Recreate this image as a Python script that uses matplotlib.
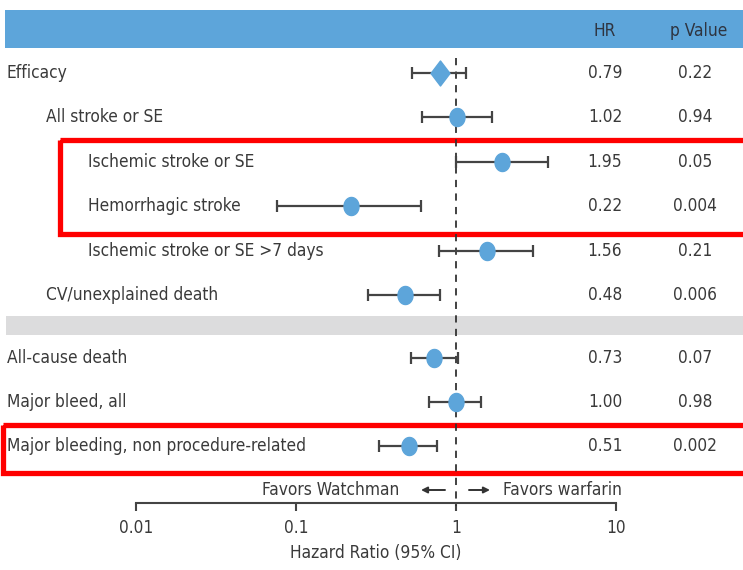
import numpy as np
import matplotlib
matplotlib.use('Agg')
import matplotlib.pyplot as plt
from matplotlib.path import Path
from matplotlib.patches import Rectangle

# DejaVu Sans Condensed is the narrowest face at hand
plt.rcParams['font.family'] = ['DejaVu Sans']
plt.rcParams['font.stretch'] = 'condensed'

# data
labels = ["Efficacy", "All stroke or SE", "Ischemic stroke or SE", "Hemorrhagic stroke",
          "Ischemic stroke or SE >7 days", "CV/unexplained death",
          "All-cause death", "Major bleed, all", "Major bleeding, non procedure-related"]
indent = [0, 1, 2, 2, 2, 1, 0, 0, 0]
hr = np.array([0.79, 1.02, 1.95, 0.22, 1.56, 0.48, 0.73, 1.00, 0.51])
ci_lo = np.array([0.53, 0.61, 1.00, 0.076, 0.78, 0.28, 0.52, 0.68, 0.33])
ci_hi = np.array([1.15, 1.69, 3.75, 0.60, 3.05, 0.79, 1.03, 1.43, 0.76])
hr_txt = ["0.79", "1.02", "1.95", "0.22", "1.56", "0.48", "0.73", "1.00", "0.51"]
p_txt = ["0.22", "0.94", "0.05", "0.004", "0.21", "0.006", "0.07", "0.98", "0.002"]
ticks = [0.01, 0.1, 1, 10]
tick_labels = ["0.01", "0.1", "1", "10"]

BLUE = '#5DA5DA'
TXT = '#3a3a3a'
FS = 12.4

# layout (pixel-like y, log x: 160 px per decade, HR=1 at x=456)
W, H = 743, 570
DEC = 160
row_y = [73 + 44.4 * i if i < 6 else 358 + 44.2 * (i - 6) for i in range(len(labels))]
indent_px = [7, 46, 88]


def shift(dx):
    # HR value dx pixels away from the line at 1
    return 10 ** (dx / DEC)


fig = plt.figure(figsize=(W / 100, H / 100), dpi=100)
ax = fig.add_axes([0, 0, 1, 1])
ax.set_xscale('log')
ax.set_xlim(shift(-456), shift(W - 456))
ax.set_ylim(H, 0)
ax.minorticks_off()

bt = ax.get_yaxis_transform()  # x in axes fraction, y in data

# header bar and separator band
ax.axhspan(10, 48, xmin=5 / W, xmax=1, color=BLUE, lw=0, zorder=0)
ax.axhspan(316, 335, xmin=6 / W, xmax=1, color='#dcdcdd', lw=0, zorder=0)
ax.text(605 / W, 31, "HR", transform=bt, ha='center', va='center', fontsize=FS, color='#2e3440')
ax.text(699 / W, 31, "p Value", transform=bt, ha='center', va='center', fontsize=FS, color='#2e3440')

# red highlight boxes
for (y0, y1, x0) in [(139.5, 233.5, 60), (424.5, 472.5, 2.5)]:
    ax.add_patch(Rectangle((x0 / W, y0), 1.05 - x0 / W, y1 - y0, transform=bt,
                           fill=False, edgecolor='#ff0000', lw=3.8, zorder=1))

# reference line
ax.vlines(1, 58, 506, colors='#333333', linestyles=(0, (4, 3.5)), lw=1.3, zorder=2)

# rows
for i, lab in enumerate(labels):
    ax.text(indent_px[indent[i]] / W, row_y[i], lab, transform=bt, ha='left', va='center',
            fontsize=FS, color=TXT)
    ax.text(605 / W, row_y[i], hr_txt[i], transform=bt, ha='center', va='center',
            fontsize=FS, color=TXT)
    ax.text(695 / W, row_y[i], p_txt[i], transform=bt, ha='center', va='center',
            fontsize=FS, color=TXT)

ax.errorbar(hr, row_y, xerr=[hr - ci_lo, ci_hi - hr], fmt='none', ecolor='#444444',
            elinewidth=1.6, capsize=4.6, capthick=1.6, zorder=3)

t = np.linspace(0, 2 * np.pi, 60)
ellipse = Path(np.column_stack([0.83 * np.cos(t), np.sin(t)]), closed=True)
diamond = Path([(0, 1), (0.76, 0), (0, -1), (-0.76, 0), (0, 1)], closed=True)
ax.plot(hr[0], row_y[0], marker=diamond, ms=18, color=BLUE, ls='none', zorder=4)
ax.plot(hr[1:], row_y[1:], marker=ellipse, ms=13, color=BLUE, ls='none', zorder=4)

# bottom axis
for s in ['left', 'right', 'top']:
    ax.spines[s].set_visible(False)
ax.spines['bottom'].set_position(('data', 503))
ax.spines['bottom'].set_bounds(ticks[0], ticks[-1])
ax.spines['bottom'].set_color('#444444')
ax.spines['bottom'].set_linewidth(1.5)
ax.set_xticks(ticks)
ax.set_xticklabels(tick_labels)
ax.tick_params(axis='x', direction='out', length=5.5, width=1.5, color='#444444',
               labelsize=FS, labelcolor=TXT, pad=6)
ax.set_yticks([])

ax.text(np.sqrt(ticks[0] * ticks[-1]), 553, "Hazard Ratio (95% CI)", ha='center', va='center',
        fontsize=FS, color=TXT)

# favors labels with arrows
arrow = dict(arrowstyle='-|>', color='#333333', lw=1.4, mutation_scale=9, shrinkA=0, shrinkB=0)
ax.annotate("", xy=(shift(-35), 490), xytext=(shift(-11), 490), arrowprops=arrow)
ax.annotate("", xy=(shift(34), 490), xytext=(shift(13), 490), arrowprops=arrow)
ax.text(shift(-57), 490, "Favors Watchman", ha='right', va='center', fontsize=FS, color=TXT)
ax.text(shift(47), 490, "Favors warfarin", ha='left', va='center', fontsize=FS, color=TXT)

fig.savefig('out.png', dpi=100, facecolor='white')
